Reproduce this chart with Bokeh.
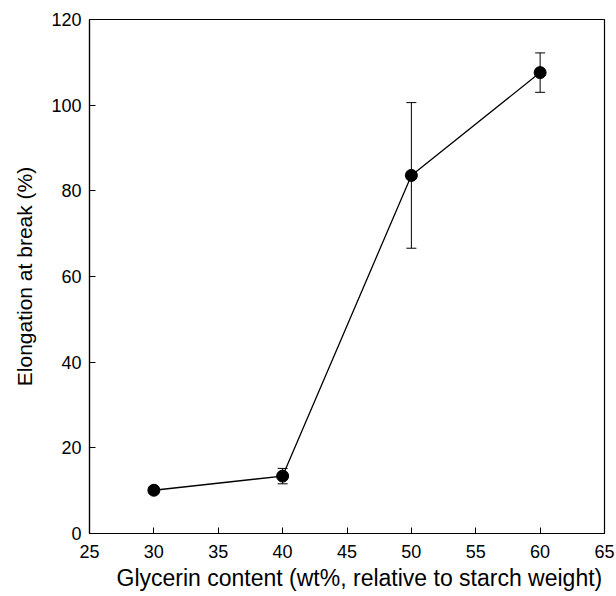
from bokeh.plotting import figure
from bokeh.models import Range1d, Whisker, ColumnDataSource, FixedTicker, TeeHead, Title
from bokeh.embed import file_html
from bokeh.resources import INLINE

glycerin = [30, 40, 50, 60]
elongation = [10.1, 13.4, 83.6, 107.6]
err = [0.8, 1.8, 17.0, 4.6]
x_ticks = [25, 30, 35, 40, 45, 50, 55, 60, 65]
y_ticks = [0, 20, 40, 60, 80, 100, 120]
x_title = "Glycerin content (wt%, relative to starch weight)"
y_title = "Elongation at break (%)"

src = ColumnDataSource(dict(
    x=glycerin, y=elongation,
    lo=[v - e for v, e in zip(elongation, err)],
    hi=[v + e for v, e in zip(elongation, err)],
))

p = figure(frame_width=515, frame_height=514, output_backend="svg", toolbar_location=None,
           x_range=Range1d(25, 65), y_range=Range1d(0, 120),
           min_border_left=89, min_border_right=12, min_border_top=19, min_border_bottom=60)
p.background_fill_color = "white"
p.border_fill_color = "white"
p.outline_line_color = "black"
p.outline_line_width = 1.2
p.grid.visible = False

FONT = "Liberation Sans"
for ax in (p.xaxis[0], p.yaxis[0]):
    ax.major_tick_in = 6
    ax.major_tick_out = 0
    ax.minor_tick_in = 0
    ax.minor_tick_out = 0
    ax.axis_line_color = "black"
    ax.axis_line_width = 1.2
    ax.major_tick_line_color = "black"
    ax.major_label_text_font = FONT
    ax.major_label_text_font_size = "18px"
    ax.major_label_text_color = "black"
    ax.axis_label_text_font = FONT
    ax.axis_label_text_font_size = "21px"
    ax.axis_label_text_font_style = "normal"
    ax.axis_label_text_color = "black"

p.xaxis.ticker = FixedTicker(ticks=x_ticks)
p.yaxis.ticker = FixedTicker(ticks=y_ticks)
p.xaxis.major_label_standoff = 11
p.yaxis.major_label_standoff = 8
p.yaxis.axis_label = y_title
p.yaxis.axis_label_standoff = 12

p.add_layout(Title(text=x_title, align="left", offset=27, standoff=4,
                   text_font=FONT, text_font_size="23px", text_font_style="normal",
                   text_color="black"), "below")

w = Whisker(source=src, base="x", lower="lo", upper="hi", line_color="black", line_width=1,
            upper_head=TeeHead(size=10, line_color="black", line_width=1),
            lower_head=TeeHead(size=10, line_color="black", line_width=1))
p.add_layout(w)
p.line("x", "y", source=src, line_color="black", line_width=1.3)
p.scatter("x", "y", source=src, size=12, fill_color="black", line_color="black")

open("out.html", "w").write(file_html(p, INLINE))
